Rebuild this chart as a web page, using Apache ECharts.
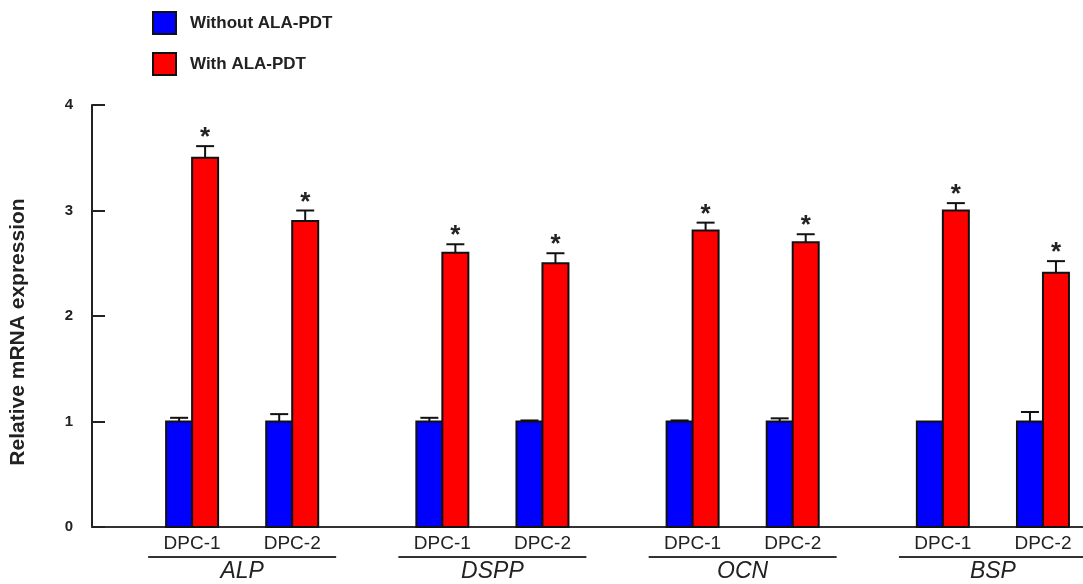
<!DOCTYPE html>
<html>
<head>
<meta charset="utf-8">
<script src="https://cdn.jsdelivr.net/npm/echarts@6/dist/echarts.min.js"></script>
<style>
html,body{margin:0;padding:0;background:#fff;}
#chart{width:1083px;height:584px;}
</style>
</head>
<body>
<div id="chart"></div>
<script>
// ---- data ----
const genes = ['ALP', 'DSPP', 'OCN', 'BSP'];
const cells = ['DPC-1', 'DPC-2'];
const seriesNames = ['Without ALA-PDT', 'With ALA-PDT'];
const withoutMean = [1.0, 1.0, 1.0, 1.0, 1.0, 1.0, 1.0, 1.0];
const withoutErr = [0.035, 0.07, 0.035, 0.01, 0.01, 0.03, 0, 0.09];
const withMean = [3.5, 2.9, 2.6, 2.5, 2.81, 2.7, 3.0, 2.41];
const withErr = [0.11, 0.1, 0.08, 0.095, 0.075, 0.075, 0.07, 0.11];
const significant = [true, true, true, true, true, true, true, true];
const yTicks = ['0', '1', '2', '3', '4'];

// ---- layout helpers ----
const FONT = '"Liberation Sans", Arial, sans-serif';
const BAR_W = 26;
function slot(i) { return Math.floor(i / 2) * 5 + (i % 2) * 2 + 2; }
function geneCenter(g) { return g * 5 + 3; }

function barRender(side, color, means, errs, stars) {
  return function (params, api) {
    const i = api.value(2);
    const x = api.value(0), v = api.value(1);
    const err = errs[i];
    const top = api.coord([x, v]);
    const base = api.coord([x, 0]);
    const x0 = top[0] + (side === 0 ? -BAR_W : 0);
    const cx = x0 + BAR_W / 2;
    const children = [{
      type: 'rect',
      shape: { x: x0, y: top[1], width: BAR_W, height: base[1] - top[1] },
      style: { fill: color, stroke: '#111', lineWidth: 2 }
    }];
    let capY = top[1];
    if (err > 0) {
      capY = api.coord([x, v + err])[1];
      children.push({ type: 'line', shape: { x1: cx, y1: top[1], x2: cx, y2: capY }, style: { stroke: '#111', lineWidth: 2 } });
      children.push({ type: 'line', shape: { x1: cx - 9, y1: capY, x2: cx + 9, y2: capY }, style: { stroke: '#111', lineWidth: 2 } });
    }
    if (stars && stars[i]) {
      children.push({
        type: 'text',
        style: { text: '*', x: cx, y: capY - 8, align: 'center', verticalAlign: 'middle',
          font: 'bold 26px ' + FONT, fill: '#222' }
      });
    }
    return { type: 'group', children: children };
  };
}

const chart = echarts.init(document.getElementById('chart'));
const option = {
  animation: false,
  backgroundColor: '#fff',
  legend: {
    left: 147, top: 6, orient: 'vertical', itemWidth: 23, itemHeight: 22, itemGap: 17,
    selectedMode: false,
    textStyle: { fontFamily: FONT, fontWeight: 'bold', fontSize: 17, color: '#222', padding: [0, 0, 0, 9] },
    data: [
      { name: seriesNames[0], icon: 'rect', itemStyle: { color: '#0000ff', borderColor: '#111', borderWidth: 2 } },
      { name: seriesNames[1], icon: 'rect', itemStyle: { color: '#ff0000', borderColor: '#111', borderWidth: 2 } }
    ]
  },
  grid: { left: 92, right: 0, top: 105, bottom: 57 },
  xAxis: {
    type: 'value', min: 0, max: 19.8,
    axisLine: { show: true, onZero: false, lineStyle: { color: '#333', width: 2 } },
    axisTick: { show: false }, axisLabel: { show: false }, splitLine: { show: false }
  },
  yAxis: {
    type: 'value', min: 0, max: 4, interval: 1,
    name: 'Relative mRNA expression', nameLocation: 'middle', nameRotate: 90, nameGap: 63,
    nameTextStyle: { fontFamily: FONT, fontWeight: 'bold', fontSize: 21, color: '#222', padding: [0, 32, 0, 0] },
    axisLine: { show: true, lineStyle: { color: '#222', width: 2 } },
    axisTick: { show: true, inside: true, length: 13, lineStyle: { color: '#222', width: 2 } },
    axisLabel: { margin: 19, fontFamily: FONT, fontWeight: 'bold', fontSize: 15, color: '#222',
      formatter: function (v) { return yTicks[Math.round(v)]; } },
    splitLine: { show: false }
  },
  series: [
    {
      name: seriesNames[0], type: 'custom', itemStyle: { color: '#0000ff' },
      renderItem: barRender(0, '#0000ff', withoutMean, withoutErr, null),
      encode: { x: 0, y: 1 },
      data: withoutMean.map(function (v, i) { return [slot(i), v, i]; })
    },
    {
      name: seriesNames[1], type: 'custom', itemStyle: { color: '#ff0000' },
      renderItem: barRender(1, '#ff0000', withMean, withErr, significant),
      encode: { x: 0, y: 1 },
      data: withMean.map(function (v, i) { return [slot(i), v, i]; })
    },
    {
      type: 'custom', silent: true, encode: { x: 0, y: 1 },
      data: withMean.map(function (v, i) { return [slot(i), 0, i]; }),
      renderItem: function (params, api) {
        const p = api.coord([api.value(0), 0]);
        return { type: 'text', style: { text: cells[api.value(2) % 2], x: p[0], y: p[1] + 17,
          align: 'center', verticalAlign: 'middle', font: '19px ' + FONT, fill: '#222' } };
      }
    },
    {
      type: 'custom', silent: true, encode: { x: 0, y: 1 },
      data: genes.map(function (g, k) { return [geneCenter(k), 0, k]; }),
      renderItem: function (params, api) {
        const p = api.coord([api.value(0), 0]);
        return { type: 'group', children: [
          { type: 'line', shape: { x1: p[0] - 94, y1: p[1] + 30, x2: p[0] + 94, y2: p[1] + 30 },
            style: { stroke: '#333', lineWidth: 2 } },
          { type: 'text', style: { text: genes[api.value(2)], x: p[0], y: p[1] + 45,
            align: 'center', verticalAlign: 'middle', font: 'italic 23px ' + FONT, fill: '#222' } }
        ] };
      }
    }
  ]
};
chart.setOption(option);
</script>
</body>
</html>
